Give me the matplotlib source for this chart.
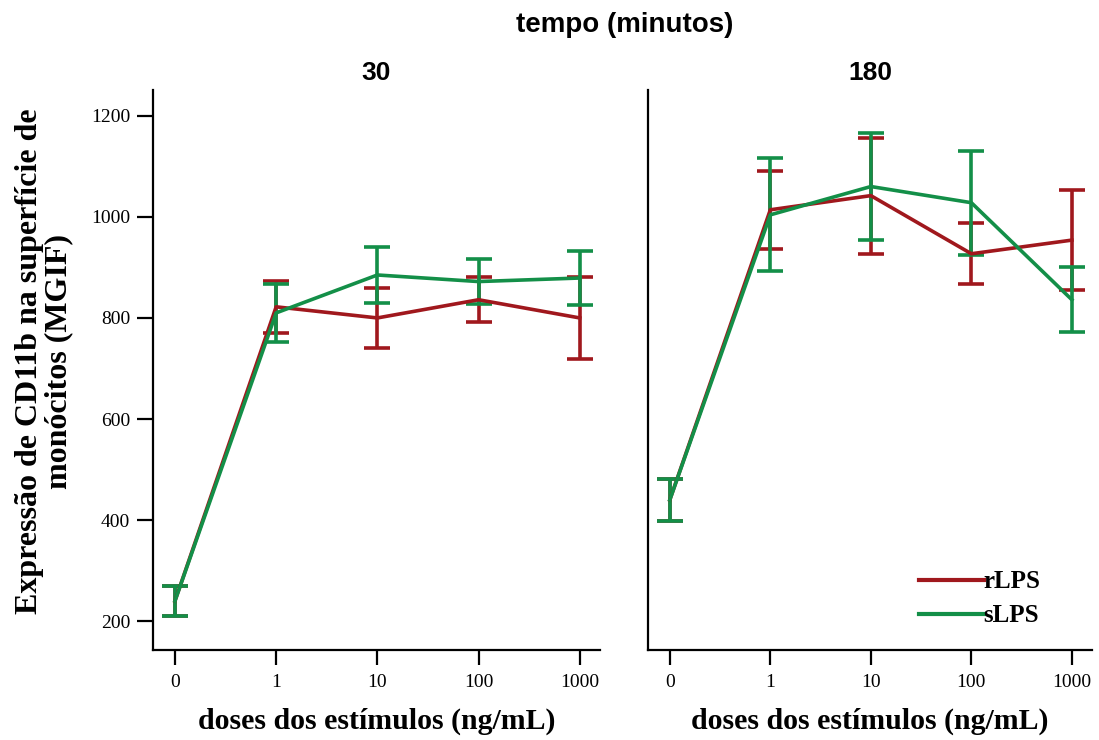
import matplotlib.pyplot as plt
from matplotlib.lines import Line2D
import numpy as np

doses = ['0', '1', '10', '100', '1000']
tempos = ['30', '180']

# médias e erros (MGIF)
r_mean_30 = [240, 822, 800, 836, 800]
r_err_30 = [30, 52, 60, 45, 81]
s_mean_30 = [240, 810, 885, 872, 879]
s_err_30 = [30, 57, 55, 44, 53]

r_mean_180 = [440, 1014, 1042, 927, 954]
r_err_180 = [42, 77, 115, 60, 99]
s_mean_180 = [440, 1004, 1060, 1028, 836]
s_err_180 = [42, 112, 106, 103, 64]

red = '#a0181d'
green = '#138f48'
serif = 'Liberation Serif'
sans = 'Liberation Sans'

fig = plt.figure(figsize=(10.99, 7.4), dpi=100)
ax1 = fig.add_axes([153/1099, 1-650/740, 447/1099, 560/740])
ax2 = fig.add_axes([648/1099, 1-650/740, 444/1099, 560/740])

x = np.arange(len(doses))
data = [(ax1, r_mean_30, r_err_30, s_mean_30, s_err_30, tempos[0]),
        (ax2, r_mean_180, r_err_180, s_mean_180, s_err_180, tempos[1])]

for ax, rm, re, sm, se, t in data:
    ax.errorbar(x, rm, yerr=re, color=red, lw=2.6, capsize=9.5, capthick=2.6,
                elinewidth=2.6)
    ax.errorbar(x, sm, yerr=se, color=green, lw=2.6, capsize=9.5, capthick=2.6,
                elinewidth=2.6)
    ax.set_xlim(-0.217, 4.2)
    ax.set_ylim(143, 1251)
    ax.set_xticks(x)
    ax.set_xticklabels(doses, fontfamily=serif, fontsize=14)
    ax.spines['top'].set_visible(False)
    ax.spines['right'].set_visible(False)
    ax.spines['left'].set_linewidth(1.6)
    ax.spines['bottom'].set_linewidth(1.6)
    ax.tick_params(axis='x', length=11, width=1.6, pad=6)
    ax.set_xlabel('doses dos estímulos (ng/mL)', fontfamily=serif,
                  fontweight='bold', fontsize=21.5, labelpad=12)
    ax.set_title(t, fontfamily=sans, fontweight='bold', fontsize=19, pad=7)

ax1.set_yticks([200, 400, 600, 800, 1000, 1200])
ax1.set_yticklabels(['200', '400', '600', '800', '1000', '1200'],
                    fontfamily=serif, fontsize=14)
ax1.tick_params(axis='y', length=11.5, width=1.6, pad=5)
ax1.set_ylabel('Expressão de CD11b na superfície de\nmonócitos (MGIF)',
               fontfamily=serif, fontweight='bold', fontsize=23, labelpad=12,
               linespacing=1.0)
ax1.yaxis.set_label_coords(-0.178, 0.515)
ax2.set_yticks([])

handles = [Line2D([], [], color=red, lw=3), Line2D([], [], color=green, lw=3)]
ax2.legend(handles, ['rLPS', 'sLPS'], loc='lower right', frameon=False,
           handlelength=2.6, handletextpad=0, bbox_to_anchor=(0.935, 0.0),
           labelspacing=0.45,
           prop={'family': serif, 'weight': 'bold', 'size': 18})

fig.text(625/1099, 1-25/740, 'tempo (minutos)', ha='center', va='center',
         fontfamily=sans, fontweight='bold', fontsize=20)

fig.savefig('out.png', dpi=100)
